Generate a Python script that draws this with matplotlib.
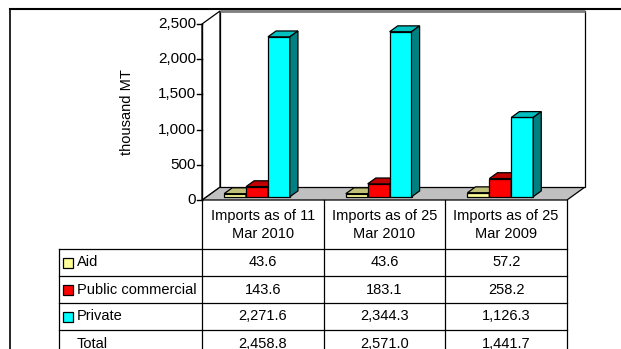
import matplotlib

matplotlib.use("Agg")
import matplotlib.pyplot as plt
import matplotlib.transforms as mtransforms
from matplotlib.lines import Line2D
from matplotlib.patches import Polygon, Rectangle

plt.rcParams["font.family"] = ["Liberation Sans", "DejaVu Sans"]

CATEGORIES = ["Imports as of 11\nMar 2010", "Imports as of 25\nMar 2010", "Imports as of 25\nMar 2009"]
SERIES = ["Aid", "Public commercial", "Private"]
AID = [43.6, 43.6, 57.2]
PUBLIC_COMMERCIAL = [143.6, 183.1, 258.2]
PRIVATE = [2271.6, 2344.3, 1126.3]
TOTAL = [2458.8, 2571.0, 1441.7]
Y_TICKS = [0, 500, 1000, 1500, 2000, 2500]
Y_LABEL = "thousand MT"

FRONT_COLORS = ["#FFFF99", "#FF0000", "#00FFFF"]
TOP_COLORS = ["#C0C078", "#C00000", "#00C0C0"]
SIDE_COLORS = ["#80804C", "#800000", "#008080"]

W, H = 621, 349
FS = 10.5

fig = plt.figure(figsize=(W / 100, H / 100), dpi=100)
ax = fig.add_axes([0, 0, 1, 1])
ax.axis("off")

# front plane of the 3-D box: categories 0..3 and values 0..2500
PX_CAT = (567 - 202) / 3
PX_VAL = (200 - 24) / 2500
ax.set_xlim(-202 / PX_CAT, (W - 202) / PX_CAT)
ax.set_ylim((200 - H) / PX_VAL, 200 / PX_VAL)
YMAX = Y_TICKS[-1]
NCAT = len(CATEGORIES)

# depth of the box and of the bars inside it
DX = 18 / PX_CAT
DV = 13 / PX_VAL
BAR_FRONT, BAR_BACK = 0.25, 0.7
BAR_W = 0.18
BAR_START = 0.145

edge = dict(edgecolor="black", linewidth=0.9)

# floor, side wall and back wall
ax.add_patch(Polygon([(0, 0), (NCAT, 0), (NCAT + DX, DV), (DX, DV)], closed=True,
                     facecolor="#C0C0C0", **edge))
ax.add_patch(Polygon([(0, 0), (DX, DV), (DX, YMAX + DV), (0, YMAX)], closed=True,
                     facecolor="white", **edge))
ax.add_patch(Rectangle((DX, DV), NCAT, YMAX, facecolor="white", **edge))
ax.plot([DX, NCAT + DX], [YMAX + DV, YMAX + DV], color="#808080", lw=2, solid_capstyle="butt")

# value axis
ax.plot([0, 0], [0, YMAX], color="black", lw=1)
for t in Y_TICKS:
    ax.plot([-0.04, 0], [t, t], color="black", lw=1)
    ax.text(-0.05, t, f"{t:,}", ha="right", va="center", fontsize=FS + 0.5)
ax.text(-0.62, YMAX * 0.5, Y_LABEL, rotation=90, ha="center", va="center", fontsize=FS)

# 3-D columns
values = [AID, PUBLIC_COMMERCIAL, PRIVATE]
fx, fv = BAR_FRONT * DX, BAR_FRONT * DV
bx, bv = BAR_BACK * DX, BAR_BACK * DV
for c in range(NCAT):
    for s, series in enumerate(values):
        h = series[c]
        x0 = c + BAR_START + s * BAR_W
        x1 = x0 + BAR_W
        ax.add_patch(Polygon([(x0 + fx, fv), (x1 + fx, fv), (x1 + fx, h + fv), (x0 + fx, h + fv)],
                             closed=True, facecolor=FRONT_COLORS[s], **edge))
        ax.add_patch(Polygon([(x0 + fx, h + fv), (x1 + fx, h + fv), (x1 + bx, h + bv), (x0 + bx, h + bv)],
                             closed=True, facecolor=TOP_COLORS[s], **edge))
        ax.add_patch(Polygon([(x1 + fx, fv), (x1 + bx, bv), (x1 + bx, h + bv), (x1 + fx, h + fv)],
                             closed=True, facecolor=SIDE_COLORS[s], **edge))

# data table under the chart: x in category units, y in pixels from the top
tbl = mtransforms.blended_transform_factory(ax.transData, fig.transFigure)


def fy(py):
    return 1 - py / H


LEG_X = (59 - 202) / PX_CAT
HEADER_BOTTOM = 249
ROW_H = 27
rows = [f"{v:,.1f}" for v in AID], [f"{v:,.1f}" for v in PUBLIC_COMMERCIAL], \
    [f"{v:,.1f}" for v in PRIVATE], [f"{v:,.1f}" for v in TOTAL]
labels = SERIES + ["Total"]

line_kw = dict(color="black", lw=0.9, transform=tbl, clip_on=False)
for c in range(NCAT + 1):
    ax.add_line(Line2D([c, c], [fy(200), fy(H + 2)], **line_kw))
ax.add_line(Line2D([LEG_X, LEG_X], [fy(HEADER_BOTTOM), fy(H + 2)], **line_kw))
for r in range(len(labels)):
    y = HEADER_BOTTOM + r * ROW_H
    ax.add_line(Line2D([LEG_X, NCAT], [fy(y), fy(y)], **line_kw))

for c, name in enumerate(CATEGORIES):
    ax.text(c + 0.5, fy((200 + HEADER_BOTTOM) / 2 + 0.5), name, transform=tbl, ha="center",
            va="center", fontsize=FS, linespacing=1.3)

key_w = 10 / PX_CAT
for r, (label, vals) in enumerate(zip(labels, rows)):
    yc = HEADER_BOTTOM + r * ROW_H + ROW_H / 2
    if r < len(SERIES):
        ax.add_patch(Rectangle((LEG_X + 4 / PX_CAT, fy(yc + 5)), key_w, 10 / H, transform=tbl,
                               facecolor=FRONT_COLORS[r], edgecolor="black", lw=0.9))
    ax.text(LEG_X + 18 / PX_CAT, fy(yc), label, transform=tbl, ha="left", va="center", fontsize=FS)
    for c, v in enumerate(vals):
        ax.text(c + 0.5, fy(yc), v, transform=tbl, ha="center", va="center", fontsize=FS)

# page frame around the figure
fig.add_artist(Line2D([10 / W, 1], [fy(9), fy(9)], color="black", lw=1.5))
fig.add_artist(Line2D([10 / W, 10 / W], [fy(9), 0], color="black", lw=1.2))

fig.savefig("out.png", dpi=100, facecolor="white")
